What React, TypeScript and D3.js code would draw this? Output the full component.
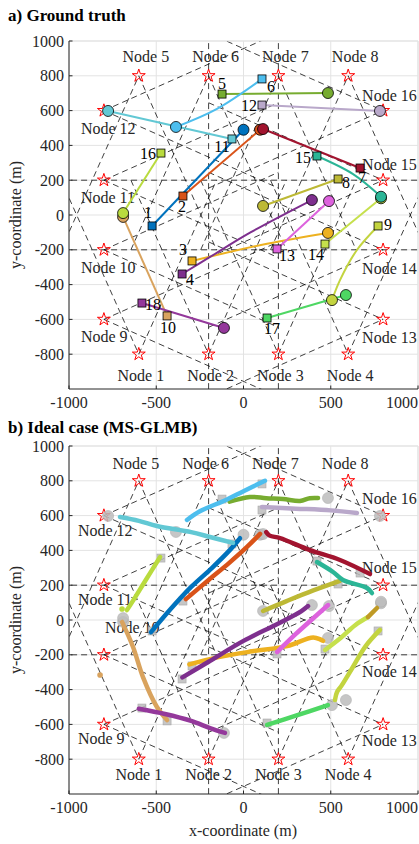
import * as d3 from "d3";

// sensor nodes (m)
const nodeNames = ["Node 1", "Node 2", "Node 3", "Node 4", "Node 5", "Node 6", "Node 7", "Node 8",
  "Node 9", "Node 10", "Node 11", "Node 12", "Node 13", "Node 14", "Node 15", "Node 16"];
const nodeX = [-600, -200, 200, 600, -600, -200, 200, 600, -800, -800, -800, -800, 800, 800, 800, 800];
const nodeY = [-800, -800, -800, -800, 800, 800, 800, 800, -600, -200, 200, 600, -600, -200, 200, 600];
const nodeFacing = [90, 90, 90, 90, -90, -90, -90, -90, 0, 0, 0, 0, 180, 180, 180, 180];
const fovHalfAngle = 24;
const fovRange = 1000;

const trackColors = ["#0072BD", "#D95319", "#EDB120", "#7E2F8E", "#77AC30", "#4DBEEE", "#A2142F", "#BDB935",
  "#C3D43F", "#D9A35E", "#62C8D4", "#B9A8CA", "#DD62DD", "#C6E04C", "#2BB596", "#B9DB3E", "#4ED763", "#94389B"];

// ground truth, first point = birth (square), last = death (circle)
const truthTracks: number[][][] = [
  [[-524, -63], [0, 490]],
  [[-347, 109], [95, 490]],
  [[-295, -264], [135, -165], [484, -103]],
  [[-352, -339], [-192, -241], [40, -100], [392, 86]],
  [[-123, 695], [484, 701]],
  [[106, 782], [-152, 610], [-387, 506]],
  [[668, 270], [112, 494]],
  [[542, 207], [112, 52]],
  [[771, -63], [650, -201], [553, -374], [507, -489]],
  [[-438, -580], [-690, -11]],
  [[-66, 437], [-776, 598]],
  [[106, 632], [782, 598]],
  [[192, -195], [490, 80]],
  [[467, -167], [788, 96]],
  [[421, 339], [628, 235], [788, 105]],
  [[-473, 356], [-690, 11]],
  [[135, -592], [587, -460]],
  [[-582, -506], [-112, -649]],
];

// estimates (MS-GLMB)
const estTracks: number[][][] = [
  [[-530, -70], [-420, 60], [-300, 190], [-180, 300], [-80, 400], [-20, 470]],
  [[-330, 120], [-200, 230], [-80, 330], [20, 420], [95, 495]],
  [[-310, -255], [-150, -215], [50, -180], [250, -150], [400, -100], [456, -120]],
  [[-350, -330], [-200, -240], [0, -120], [200, -20], [330, 50], [370, 80]],
  [[-80, 680], [37, 707], [130, 700], [226, 695], [324, 684], [380, 700], [427, 701]],
  [[-324, 575], [-250, 625], [-100, 690], [0, 740], [123, 800]],
  [[130, 505], [150, 485], [209, 471], [381, 402], [553, 345], [725, 264]],
  [[112, 52], [250, 110], [400, 170], [553, 225]],
  [[782, -57], [700, -150], [627, -270], [560, -380], [536, -414], [524, -460]],
  [[-696, -11], [-633, -155], [-576, -328], [-496, -500], [-438, -575]],
  [[-708, 592], [-600, 570], [-496, 540], [-300, 505], [-192, 477], [-60, 443]],
  [[106, 649], [300, 640], [500, 630], [650, 615]],
  [[192, -184], [300, -80], [400, 10], [485, 86]],
  [[467, -172], [560, -100], [640, -30], [713, 17]],
  [[421, 333], [513, 276], [570, 230], [708, 184], [736, 155]],
  [[-478, 362], [-560, 230], [-640, 100], [-668, 57]],
  [[135, -603], [300, -550], [484, -489]],
  [[-600, -510], [-450, -540], [-300, -580], [-192, -621], [-106, -649]],
];
const strayDots = [[-822, -316, 9], [-696, 63, 15]];
const goldPiece = [[713, 17], [765, 69]];

const labelShift: number[][] = [
  [-4, -13], [-1, 10], [-9, -11], [8, 6], [0, -11], [9, 8], [2, 9], [8, 4], [10, -1],
  [1, 12], [-10, 8], [-13, 0], [10, 7], [-9, 10], [-14, 1], [-13, 0], [5, 10], [11, 1],
];

const xTicks = [-1000, -500, 0, 500, 1000];
const yTicks = [1000, 800, 600, 400, 200, 0, -200, -400, -600, -800];

const FONT = "'Liberation Serif', 'Times New Roman', serif";
const GRID = "#e3e3e3";
const AXIS = "#262626";

function fov(i: number) {
  const a = (nodeFacing[i] * Math.PI) / 180;
  const w = fovRange * Math.tan((fovHalfAngle * Math.PI) / 180);
  const cx = nodeX[i] + fovRange * Math.cos(a), cy = nodeY[i] + fovRange * Math.sin(a);
  const nx = Math.round(-Math.sin(a) * 1e9) / 1e9, ny = Math.round(Math.cos(a) * 1e9) / 1e9;
  return [[nodeX[i], nodeY[i]], [cx + w * nx, cy + w * ny], [cx - w * nx, cy - w * ny]];
}

function Panel({ id, top, bottom, title, titleY, truth, ideal }: any) {
  const x = d3.scaleLinear().domain([-1000, 1000]).range([69, 418]);
  const y = d3.scaleLinear().domain([-1000, 1000]).range([bottom, top]);
  const line = d3.line<number[]>().x((d) => x(d[0])).y((d) => y(d[1])).curve(d3.curveCatmullRom);
  const star = d3.symbol().type(d3.symbolStar).size(52)();

  // FoV edges, collinear overlapping pieces merged so shared far edges are drawn once
  const groups = new Map<string, { ux: number; uy: number; n: number; iv: number[][] }>();
  nodeX.forEach((_, i) => {
    const v = fov(i).map((p) => [x(p[0]), y(p[1])]);
    for (let k = 0; k < 3; k++) {
      let p = v[k], q = v[(k + 1) % 3];
      const dx = q[0] - p[0], dy = q[1] - p[1];
      if (dx < -1e-6 || (Math.abs(dx) <= 1e-6 && dy < 0)) [p, q] = [q, p];
      const len = Math.hypot(q[0] - p[0], q[1] - p[1]);
      const ux = (q[0] - p[0]) / len, uy = (q[1] - p[1]) / len;
      const n = -uy * p[0] + ux * p[1];
      const key = `${Math.round(ux * 1000) + 0}|${Math.round(uy * 1000) + 0}|${Math.round(n * 2) + 0}`;
      if (!groups.has(key)) groups.set(key, { ux, uy, n, iv: [] });
      const t0 = p[0] * ux + p[1] * uy;
      groups.get(key)!.iv.push([t0, t0 + len]);
    }
  });
  const segs: number[][] = [];
  groups.forEach((g) => {
    const iv = g.iv.sort((a, b) => a[0] - b[0]);
    let cur = iv[0].slice();
    const push = (c: number[]) => {
      const bx = -g.uy * g.n, by = g.ux * g.n;
      segs.push([bx + g.ux * c[0], by + g.uy * c[0], bx + g.ux * c[1], by + g.uy * c[1]]);
    };
    for (let k = 1; k < iv.length; k++) {
      if (iv[k][0] <= cur[1] + 0.5) cur[1] = Math.max(cur[1], iv[k][1]);
      else { push(cur); cur = iv[k].slice(); }
    }
    push(cur);
  });

  const nodeLabel = (i: number) => {
    const sx = x(nodeX[i]), sy = y(nodeY[i]);
    if (i < 4) return { x: sx + (ideal ? 0 : 2), y: sy + (ideal ? 21 : 27), a: "middle" };
    if (i < 8) return { x: sx + (ideal ? -3 : 7), y: sy + (ideal ? -12 : -14), a: "middle" };
    if (i < 12) {
      if (ideal && i === 9) return { x: sx + 1, y: sy - 22, a: "start" };
      return { x: sx - (ideal ? 26 : 23), y: sy + (ideal ? 20 : 23), a: "start" };
    }
    if (i < 14) return { x: sx - 21, y: sy + (ideal ? 22 : 24), a: "start" };
    return { x: sx - 21, y: sy + (ideal ? -12 : -10), a: "start" };
  };

  const midY = (top + bottom) / 2;
  return (
    <g>
      <defs>
        <clipPath id={"clip" + id}>
          <rect x={69} y={top} width={349} height={bottom - top} />
        </clipPath>
      </defs>
      <text x={8} y={titleY} fontFamily={FONT} fontWeight="bold" fontSize={17} fill="#000">{title}</text>
      {xTicks.map((t) => (
        <line key={"gx" + t} x1={x(t)} x2={x(t)} y1={top} y2={bottom} stroke={GRID} strokeWidth={1} />
      ))}
      {yTicks.map((t) => (
        <line key={"gy" + t} x1={69} x2={418} y1={y(t)} y2={y(t)} stroke={GRID} strokeWidth={1} />
      ))}
      <g clipPath={`url(#clip${id})`}>
        {segs.map((s, k) => (
          <line key={"fov" + k} x1={s[0]} y1={s[1]} x2={s[2]} y2={s[3]}
            stroke="#000" strokeWidth={0.75} strokeDasharray="6,4" />
        ))}
      </g>
      {nodeX.map((_, i) => (
        <path key={"st" + i} d={star} transform={`translate(${x(nodeX[i])},${y(nodeY[i])})`}
          fill="none" stroke="#ff0000" strokeWidth={1} />
      ))}
      {nodeNames.map((n, i) => {
        const l = nodeLabel(i);
        return (
          <text key={"nl" + i} x={l.x} y={l.y} textAnchor={l.a} fontFamily={FONT} fontSize={16} fill="#262626">{n}</text>
        );
      })}
      {ideal ? (
        <g>
          {truthTracks.map((t, i) => (
            <g key={"gm" + i} opacity={0.85}>
              <rect x={x(t[0][0]) - 4} y={y(t[0][1]) - 4} width={8} height={8} fill="#bdbdbd" stroke="#9a9a9a" strokeWidth={0.6} />
              <circle cx={x(t[t.length - 1][0])} cy={y(t[t.length - 1][1])} r={5.5} fill="#bdbdbd" stroke="#a5a5a5" strokeWidth={0.6} />
            </g>
          ))}
          {estTracks.map((t, i) => (
            <path key={"es" + i} d={line(t) || ""} fill="none" stroke={trackColors[i]}
              strokeWidth={4.5} strokeLinecap="round" strokeLinejoin="round" />
          ))}
          <path d={line(goldPiece) || ""} fill="none" stroke="#C09A25" strokeWidth={4.5} strokeLinecap="round" />
          {strayDots.map((d, i) => (
            <circle key={"sd" + i} cx={x(d[0])} cy={y(d[1])} r={2.8} fill={trackColors[d[2]]} />
          ))}
        </g>
      ) : (
        <g>
          {truth.map((t: number[][], i: number) => (
            <path key={"tr" + i} d={line(t) || ""} fill="none" stroke={trackColors[i]} strokeWidth={2} />
          ))}
          {truth.map((t: number[][], i: number) => {
            const s = t[0], e = t[t.length - 1];
            return (
              <g key={"mk" + i}>
                <circle cx={x(e[0])} cy={y(e[1])} r={5.5} fill={trackColors[i]} stroke="#000" strokeWidth={0.8} />
                <rect x={x(s[0]) - 4} y={y(s[1]) - 4} width={8} height={8} fill={trackColors[i]} stroke="#000" strokeWidth={0.8} />
              </g>
            );
          })}
          {truth.map((t: number[][], i: number) => (
            <text key={"tn" + i} x={x(t[0][0]) + labelShift[i][0]} y={y(t[0][1]) + labelShift[i][1]}
              textAnchor="middle" dominantBaseline="central" fontFamily={FONT} fontSize={16} fill="#000">{i + 1}</text>
          ))}
        </g>
      )}
      <line x1={69} x2={418} y1={top} y2={top} stroke={GRID} />
      <line x1={418} x2={418} y1={top} y2={bottom} stroke={GRID} />
      <line x1={69} x2={418} y1={bottom} y2={bottom} stroke={AXIS} strokeWidth={1} />
      <line x1={69} x2={69} y1={top} y2={bottom} stroke={AXIS} strokeWidth={1} />
      {xTicks.map((t) => (
        <g key={"tx" + t}>
          <line x1={x(t)} x2={x(t)} y1={bottom} y2={bottom - 3.5} stroke={AXIS} />
          <text x={x(t)} y={bottom + 19} textAnchor={t === 1000 ? "end" : "middle"}
            fontFamily={FONT} fontSize={16} fill={AXIS}>{t}</text>
        </g>
      ))}
      {yTicks.map((t) => (
        <g key={"ty" + t}>
          <line x1={69} x2={72.5} y1={y(t)} y2={y(t)} stroke={AXIS} />
          <text x={64} y={y(t)} textAnchor="end" dominantBaseline="central" fontFamily={FONT} fontSize={16} fill={AXIS}>{t}</text>
        </g>
      ))}
      <text transform={`translate(21,${midY}) rotate(-90)`} textAnchor="middle" fontFamily={FONT} fontSize={16} fill={AXIS}>
        y-coordinate (m)
      </text>
    </g>
  );
}

export default function App() {
  return (
    <svg width={419} height={844} style={{ position: "absolute", left: 0, top: 0, background: "#fff" }}>
      <rect width={419} height={844} fill="#fff" />
      <Panel id="a" top={41} bottom={389} title="a) Ground truth" titleY={21} truth={truthTracks} ideal={false} />
      <Panel id="b" top={446} bottom={794} title="b) Ideal case (MS-GLMB)" titleY={433} truth={truthTracks} ideal={true} />
      <text x={243} y={836} textAnchor="middle" fontFamily={FONT} fontSize={16} fill={AXIS}>x-coordinate (m)</text>
    </svg>
  );
}
